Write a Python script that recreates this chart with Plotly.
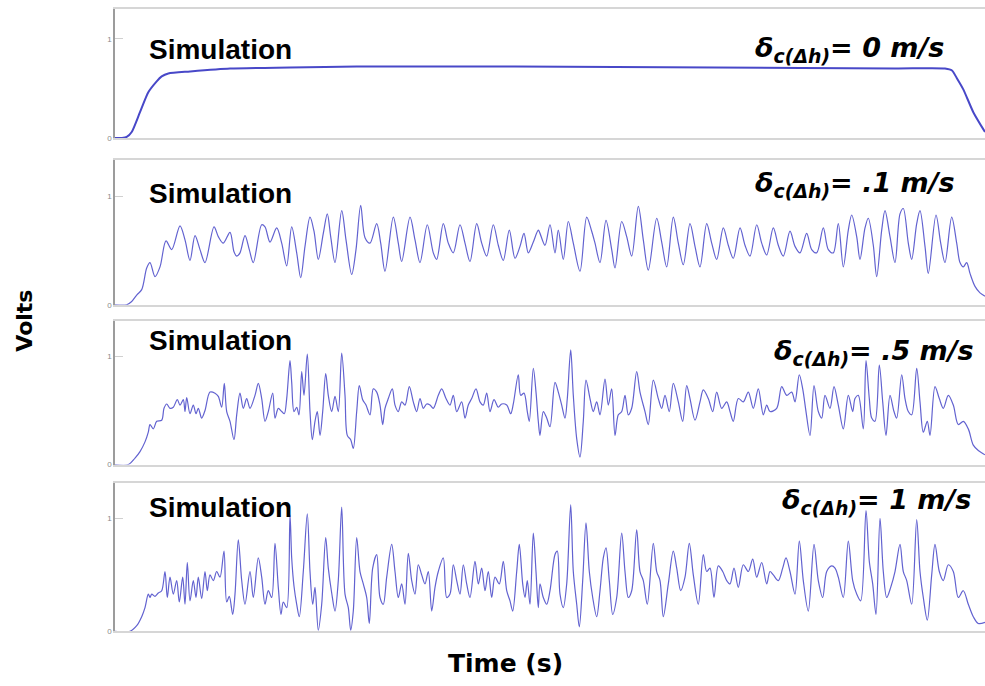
import plotly.graph_objects as go

# ---------------- data (time in arbitrary units, volts) ----------------
time_p1 = [0, 7, 11.7, 16.7, 25, 33.3, 41.7, 46.7, 53.3, 75, 115, 175, 241.7, 400, 600, 780,
           830, 837, 842, 848.3, 858.3, 870]
volts_p1 = [0, 0, 0.01, 0.06, 0.26, 0.46, 0.57, 0.62, 0.65, 0.67, 0.70, 0.71, 0.72, 0.72, 0.71, 0.70,
            0.70, 0.68, 0.60, 0.49, 0.26, 0.06]

time_p2 = [0, 11.7, 16.7, 21.7, 26.7, 31.7, 35, 40, 45, 51,
           56.7, 65, 70, 75, 80, 85, 90, 99, 103.3, 108.3,
           115, 119, 121.7, 125, 130, 134.3, 138.3, 146.7, 150, 155,
           161.7, 166.7, 171.7, 176.7, 181.7, 185.7, 190, 195, 199, 203.3,
           208.3, 212.3, 215.7, 220, 226.7, 231, 236.7, 241, 245.7, 250,
           255, 261.7, 265.7, 270, 278.3, 283.3, 286.7, 295, 300, 305,
           312.3, 318.3, 321.7, 328.3, 333.3, 338.3, 345, 350, 355, 361.7,
           366.7, 371.7, 378.3, 383.3, 388.3, 394.3, 400, 405, 409, 413.3,
           418.3, 423.3,
           425, 430, 435, 440, 443.3, 448.3, 453.3, 458.3, 465, 471.7,
           476.7, 480, 485, 491, 496.7, 500, 506.7, 511.7, 516.7, 523.3,
           528.3, 533.3, 541.7, 546.7, 551.7, 558.3, 563.3, 568.3, 575, 580,
           585, 591.7, 596.7, 601.7, 608.3, 613.3, 618.3, 625, 630, 635,
           641.7, 646.7, 651.7, 658.3, 663.3, 668.3, 675, 680, 685, 691.7,
           696.7, 701.7, 708.3, 713.3, 718.3, 723.3, 728.3, 733.3, 736.7, 741.7,
           745, 750, 753.3, 758.3, 761.7, 766.7, 770, 775, 780, 785,
           788.3, 793.3, 796.7, 801.7, 805, 810, 813.3, 821, 825.7, 830,
           836.7, 841.7, 845, 848.3, 851.7, 855, 860, 865, 870]
volts_p2 = [0, 0, 0.03, 0.09, 0.14, 0.34, 0.39, 0.26, 0.35, 0.59,
            0.51, 0.73, 0.60, 0.41, 0.64, 0.51, 0.39, 0.72, 0.63, 0.57,
            0.67, 0.49, 0.45, 0.48, 0.64, 0.51, 0.39, 0.74, 0.72, 0.58,
            0.71, 0.57, 0.36, 0.72, 0.48, 0.25, 0.54, 0.81, 0.68, 0.42,
            0.66, 0.84, 0.63, 0.39, 0.87, 0.60, 0.28, 0.51, 0.92, 0.62,
            0.57, 0.75, 0.57, 0.31, 0.81, 0.57, 0.40, 0.81, 0.60, 0.39,
            0.74, 0.48, 0.42, 0.75, 0.57, 0.48, 0.74, 0.57, 0.40, 0.75,
            0.57, 0.45, 0.74, 0.55, 0.41, 0.69, 0.43, 0.54, 0.66, 0.48,
            0.58, 0.69,
            0.66, 0.55, 0.74, 0.48, 0.69, 0.42, 0.77, 0.57, 0.31, 0.81,
            0.68, 0.57, 0.39, 0.78, 0.51, 0.34, 0.77, 0.63, 0.45, 0.91,
            0.60, 0.32, 0.80, 0.58, 0.35, 0.81, 0.57, 0.37, 0.75, 0.54,
            0.35, 0.75, 0.57, 0.42, 0.71, 0.55, 0.43, 0.71, 0.55, 0.45,
            0.74, 0.57, 0.46, 0.71, 0.55, 0.45, 0.68, 0.54, 0.48, 0.66,
            0.51, 0.48, 0.71, 0.51, 0.48, 0.75, 0.35, 0.69, 0.83, 0.63,
            0.42, 0.71, 0.80, 0.55, 0.26, 0.69, 0.87, 0.63, 0.39, 0.84,
            0.89, 0.57, 0.42, 0.75, 0.87, 0.54, 0.29, 0.83, 0.57, 0.39,
            0.81, 0.57, 0.39, 0.35, 0.39, 0.29, 0.17, 0.11, 0.08]

time_p3 = [0, 13.3, 20, 25, 30, 33.3, 35, 38.3, 41.7, 46.7,
           49, 51.7, 55, 58.3, 62.3, 65, 68.3, 70, 71.7, 75,
           78.3, 81, 83.3, 86.7, 90, 95, 100, 103.3, 106.7, 109.3,
           111.7, 115, 119, 121.7, 125, 128.3, 131.7, 135, 140, 143.3,
           146.7, 150, 153.3, 157.7, 160, 163.3, 166.7, 169.3, 171.7, 175,
           176.7, 179, 181.7, 184, 186.7, 189, 192.3, 195, 197.3, 200,
           202.3, 205, 207.7, 210.7, 213.3, 216.7, 220, 223.3, 226.7, 230,
           232.3, 235.7, 238.3, 241.7, 244.3, 247.7, 251, 255, 258.3, 261.7,
           265, 267.7, 270, 273.3, 277.3, 280, 283.3, 286.7, 290, 294.3,
           298.3, 301.7, 305, 308.3, 311.7, 315, 318.3, 323.3, 326.7, 331,
           335, 338.3, 341.7, 346.7, 350, 353.3, 356.7, 361, 365, 368.3,
           371.7, 375, 379, 383.3, 386.7, 391.7, 395.7, 398.3, 403.3, 405.7,
           409, 412.3, 414.3, 418.3, 421, 423.3, 425,
           428.3, 431.7, 435, 440, 443.3, 446.7, 450, 452.3, 455.7, 458.3,
           461.7, 465, 468.3, 471, 475, 478.3, 481.7, 485, 490, 493.3,
           496.7, 500, 503.3, 506.7, 510, 513.3, 516.7, 521.7, 525, 530,
           533.3, 538.3, 543.3, 546.7, 550, 554.3, 558.3, 563.3, 567.7, 571.7,
           575, 580, 585, 588.3, 593.3, 597.7, 601.7, 606.7, 611.7, 615,
           618.3, 623.3, 628.3, 633.3, 638.3, 643.3, 648.3, 651.7, 655, 661.7,
           666.7, 671.7, 676.7, 680, 684.3, 687.7, 691, 695, 699, 703.3,
           706.7, 710, 715, 719, 723.3, 728.3, 733.3, 737.7, 740, 743.3,
           748.3, 751, 754.3, 756.7, 760, 764.3, 767.7, 771, 775, 779,
           781.7, 786.7, 790, 793.3, 796.7, 801.7, 805, 808.3, 812.3, 815,
           820, 824.3, 828.3, 833.3, 838.3, 843.3, 848.3, 853.3, 858.3, 863.3, 870]
volts_p3 = [0, 0, 0.06, 0.12, 0.21, 0.30, 0.37, 0.33, 0.40, 0.41,
            0.52, 0.56, 0.52, 0.53, 0.60, 0.55, 0.60, 0.49, 0.62, 0.47,
            0.55, 0.47, 0.52, 0.43, 0.50, 0.67, 0.66, 0.63, 0.53, 0.75,
            0.49, 0.40, 0.23, 0.46, 0.66, 0.52, 0.61, 0.52, 0.64, 0.75,
            0.61, 0.40, 0.49, 0.66, 0.43, 0.52, 0.49, 0.47, 0.61, 0.96,
            0.76, 0.49, 0.53, 0.46, 0.86, 0.64, 1.02, 0.49, 0.23, 0.40,
            0.49, 0.27, 0.49, 0.84, 0.64, 0.49, 0.63, 0.49, 1.03, 0.64,
            0.27, 0.23, 0.15, 0.49, 0.73, 0.60, 0.55, 0.46, 0.70, 0.67,
            0.55, 0.37, 0.52, 0.61, 0.70, 0.55, 0.49, 0.58, 0.55, 0.72,
            0.58, 0.49, 0.61, 0.52, 0.56, 0.55, 0.52, 0.64, 0.70, 0.61,
            0.55, 0.64, 0.49, 0.58, 0.43, 0.55, 0.61, 0.70, 0.58, 0.55,
            0.66, 0.49, 0.60, 0.53, 0.56, 0.55, 0.47, 0.56, 0.83, 0.64,
            0.66, 0.49, 0.40, 0.89, 0.67, 0.40, 0.27,
            0.49, 0.43, 0.35, 0.76, 0.67, 0.55, 0.43, 0.61, 1.06, 0.64,
            0.24, 0.07, 0.40, 0.78, 0.61, 0.49, 0.58, 0.46, 0.79, 0.55,
            0.70, 0.27, 0.46, 0.49, 0.64, 0.46, 0.52, 0.86, 0.67, 0.49,
            0.37, 0.78, 0.61, 0.52, 0.64, 0.49, 0.75, 0.58, 0.40, 0.73,
            0.61, 0.41, 0.58, 0.69, 0.61, 0.49, 0.67, 0.52, 0.58, 0.49,
            0.40, 0.61, 0.58, 0.67, 0.52, 0.70, 0.46, 0.55, 0.49, 0.52,
            0.72, 0.64, 0.67, 0.58, 0.83, 0.70, 0.49, 0.27, 0.73, 0.49,
            0.43, 0.64, 0.52, 0.72, 0.55, 0.33, 0.64, 0.49, 0.61, 0.64,
            0.33, 0.96, 0.61, 0.43, 0.40, 0.92, 0.58, 0.27, 0.64, 0.49,
            0.43, 0.83, 0.61, 0.49, 0.46, 0.89, 0.58, 0.30, 0.40, 0.27,
            0.72, 0.61, 0.52, 0.64, 0.55, 0.37, 0.40, 0.33, 0.18, 0.13, 0.09]

time_p4 = [0, 15, 21.7, 26.7, 30, 33.3, 35, 36.7, 40, 43.3,
           46.7, 50, 52.3, 55, 58.3, 61.7, 64.3, 67.7, 70, 72.3,
           75, 78.3, 81, 83.3, 86.7, 90, 92.3, 95, 98.3, 101.7,
           105, 109, 111.7, 114.3, 117.7, 120, 123.3, 126.7, 130, 135,
           138.3, 143.3, 146.7, 150, 153.3, 156.7, 160, 163.3, 166, 168.3,
           171.7, 175, 176.7, 179, 181.7, 184.3, 188.3, 192.3, 195, 197.7,
           200, 203.3, 206.7, 210.7, 213.3, 216.7, 220, 223.3, 226.7, 230,
           233.3, 235.7, 238.3, 241.7, 245, 248.3, 251.7, 254.3, 257.7, 261.7,
           265, 268.3, 271.7, 276.7, 280, 283.3, 286.7, 290, 293.3, 296.7,
           300, 303.3, 306.7, 310, 313.3, 316.7, 320, 323.3, 328.3, 331.7,
           335, 338.3, 341.7, 345, 348.3, 351.7, 355, 360, 363.3, 366.7,
           370, 373.3, 376.7, 380, 384.3, 388.3, 391.7, 395, 397.7, 401.7,
           404.3, 407.7, 410, 412.3, 415, 418.3, 421, 423.3,
           425, 428.3, 431.7, 435, 440, 442.3, 445, 448.3, 451.7, 455.7,
           458.3, 461.7, 464.3, 467.7, 471, 474.3, 477.7, 481.7, 485, 488.3,
           491, 494.3, 497.7, 501.7, 506.7, 510, 513.3, 516.7, 521.7, 525,
           528.3, 532.3, 538.3, 541.7, 545, 548.3, 553.3, 558.3, 561.7, 565.7,
           570, 574.3, 578.3, 583.3, 588.3, 591.7, 595, 599, 603.3, 607.7,
           611.7, 615, 619, 623.3, 628.3, 633.3, 637.7, 641.7, 646.7, 651.7,
           655, 658.3, 663.3, 667.7, 671, 675, 680, 684.3, 688.3, 693.3,
           699, 703.3, 707.7, 711.7, 716.7, 720, 723.3, 728.3, 733.3, 737.7,
           741.7, 745.7, 751, 754.3, 757.7, 761, 765, 768.3, 771.7, 775.7,
           780, 785, 788.3, 791.7, 796.7, 801.7, 805, 808.3, 812.3, 816.7,
           820, 824.3, 828.3, 833.3, 838.3, 843.3, 848.3, 853.3, 858.3, 863.3, 870]
volts_p4 = [0, 0, 0.05, 0.13, 0.21, 0.33, 0.30, 0.33, 0.31, 0.34,
            0.36, 0.53, 0.30, 0.48, 0.33, 0.45, 0.26, 0.48, 0.24, 0.61,
            0.27, 0.45, 0.30, 0.48, 0.29, 0.53, 0.36, 0.50, 0.45, 0.53,
            0.48, 0.71, 0.26, 0.31, 0.15, 0.33, 0.81, 0.45, 0.24, 0.53,
            0.30, 0.65, 0.48, 0.24, 0.36, 0.30, 0.78, 0.39, 0.15, 0.26,
            0.21, 1.03, 0.65, 0.40, 0.24, 0.13, 0.53, 1.04, 0.53, 0.24,
            0.39, 0.01, 0.24, 0.83, 0.56, 0.34, 0.18, 0.45, 1.10, 0.33,
            0.21, 0.01, 0.18, 0.83, 0.53, 0.42, 0.30, 0.07, 0.56, 0.68,
            0.30, 0.24, 0.48, 0.77, 0.53, 0.30, 0.42, 0.24, 0.69, 0.45,
            0.33, 0.59, 0.50, 0.42, 0.53, 0.18, 0.39, 0.53, 0.65, 0.30,
            0.33, 0.59, 0.45, 0.33, 0.59, 0.42, 0.30, 0.62, 0.42, 0.56,
            0.36, 0.53, 0.30, 0.48, 0.42, 0.62, 0.36, 0.27, 0.18, 0.53,
            0.77, 0.42, 0.30, 0.45, 0.24, 0.87, 0.53, 0.21,
            0.42, 0.30, 0.24, 0.36, 0.68, 0.71, 0.33, 0.21, 0.42, 1.12,
            0.53, 0.24, 0.04, 0.45, 0.96, 0.53, 0.30, 0.13, 0.36, 0.65,
            0.74, 0.45, 0.15, 0.30, 0.87, 0.53, 0.30, 0.36, 0.90, 0.53,
            0.45, 0.24, 0.78, 0.53, 0.45, 0.13, 0.42, 0.71, 0.56, 0.36,
            0.48, 0.78, 0.50, 0.24, 0.68, 0.53, 0.56, 0.30, 0.58, 0.53,
            0.45, 0.42, 0.56, 0.39, 0.59, 0.53, 0.64, 0.48, 0.61, 0.42,
            0.53, 0.50, 0.45, 0.56, 0.65, 0.53, 0.33, 0.80, 0.45, 0.18,
            0.77, 0.45, 0.30, 0.53, 0.58, 0.56, 0.48, 0.30, 0.80, 0.45,
            0.33, 0.27, 1.07, 0.62, 0.42, 0.15, 1.00, 0.53, 0.30, 0.39,
            0.53, 0.77, 0.53, 0.45, 0.24, 0.99, 0.53, 0.30, 0.10, 0.50,
            0.77, 0.53, 0.45, 0.59, 0.53, 0.30, 0.36, 0.24, 0.13, 0.07, 0.08]

panel_labels = ["0", ".1", ".5", "1"]
y_tick_values = [0, 1]
y_tick_text = ["0", "1"]

series = [(time_p1, volts_p1), (time_p2, volts_p2), (time_p3, volts_p3), (time_p4, volts_p4)]
for t, v in series:
    assert len(t) == len(v), (len(t), len(v))

# ---------------- layout constants ----------------
W, H = 985, 686
x_dom = [115 / W, 1.0]
y_doms = [[1 - 139 / H, 1 - 9 / H], [1 - 307 / H, 1 - 161 / H],
          [1 - 468 / H, 1 - 323 / H], [1 - 636 / H, 1 - 487 / H]]
y_tops = [1.30, 1.34, 1.33, 1.31]

fig = go.Figure()
for i, (t, v) in enumerate(series):
    sfx = "" if i == 0 else str(i + 1)
    fig.add_trace(go.Scatter(
        x=t, y=v, mode="lines",
        line=dict(color="#4848c8" if i == 0 else "#6262d0", width=2.0 if i == 0 else 1.2,
                  shape="spline", smoothing=0.9 if i else 0.6),
        xaxis="x" + sfx, yaxis="y" + sfx, hoverinfo="skip", showlegend=False))
    fig.layout["xaxis" + sfx] = dict(
        domain=x_dom, range=[0, 870], anchor="y" + sfx,
        showline=True, mirror=True, linecolor="#d6d6d6", linewidth=1.5,
        showgrid=False, zeroline=False, showticklabels=False, ticks="")
    fig.layout["yaxis" + sfx] = dict(
        domain=y_doms[i], range=[0, y_tops[i]], anchor="x" + sfx,
        showline=True, linecolor="#9c9c9c", linewidth=1.5,
        showgrid=False, zeroline=False,
        tickvals=y_tick_values, ticktext=y_tick_text,
        ticks="inside", ticklen=8, tickcolor="#d0d0d0", tickwidth=1,
        tickfont=dict(size=8, color="#8a8a8a", family="Liberation Sans"))

sim_y = [50, 195, 343, 511]
delta_x = [753, 753, 772, 780]
delta_y = [50, 186, 355, 505]
ann = []
for i in range(4):
    ann.append(dict(
        text="Simulation", xref="paper", yref="paper",
        x=147 / W, y=1 - sim_y[i] / H, xanchor="left", yanchor="middle",
        showarrow=False,
        font=dict(family="Liberation Sans, Arial", size=28, color="black", weight="bold")))
    ann.append(dict(
        text="δ<sub>c(Δh)</sub>= " + panel_labels[i] + " m/s",
        xref="paper", yref="paper",
        x=delta_x[i] / W, y=1 - delta_y[i] / H, xanchor="left", yanchor="middle",
        showarrow=False,
        font=dict(family="DejaVu Sans", size=27, color="black", weight="bold", style="italic")))
ann.append(dict(text="Volts", xref="paper", yref="paper", x=25 / W, y=1 - 323 / H,
                xanchor="center", yanchor="middle", textangle=-90, showarrow=False,
                font=dict(family="DejaVu Sans", size=22, color="black", weight="bold")))
ann.append(dict(text="Time (s)", xref="paper", yref="paper", x=505 / W, y=1 - 668 / H,
                xanchor="center", yanchor="middle", showarrow=False,
                font=dict(family="DejaVu Sans", size=25, color="black", weight="bold")))

fig.update_layout(
    width=W, height=H, autosize=False,
    margin=dict(l=0, r=0, t=0, b=0, pad=0),
    paper_bgcolor="white", plot_bgcolor="white",
    showlegend=False, annotations=ann)

fig.write_html("out.html")
